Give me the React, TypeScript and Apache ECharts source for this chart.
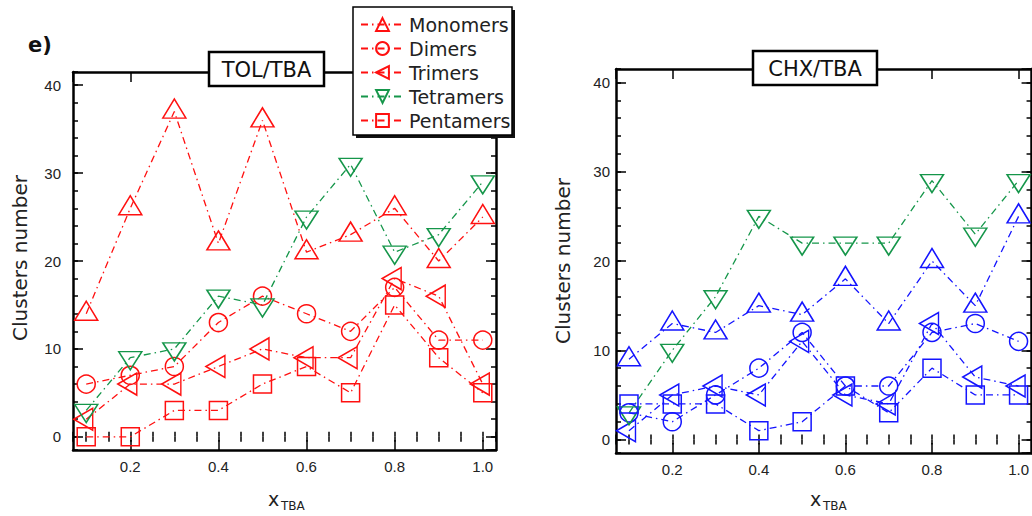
import React, { useEffect, useRef } from "react";
import * as echarts from "echarts";

// Mole fractions of TBA sampled in both mixtures
const X_VALUES = [0.1, 0.2, 0.3, 0.4, 0.5, 0.6, 0.7, 0.8, 0.9, 1.0];
const SERIES_NAMES = ["Monomers", "Dimers", "Trimers", "Tetramers", "Pentamers"];

// TOL/TBA cluster counts
const tolMonomers = [14, 26, 37, 22, 36, 21, 23, 26, 20, 25];
const tolDimers = [6, 7, 8, 13, 16, 14, 12, 17, 11, 11];
const tolTrimers = [2, 6, 6, 8, 10, 9, 9, 18, 16, 6];
const tolTetramers = [3, 9, 10, 16, 15, 25, 31, 21, 23, 29];
const tolPentamers = [0, 0, 3, 3, 6, 8, 5, 15, 9, 5];

// CHX/TBA cluster counts
const chxMonomers = [9, 13, 12, 15, 14, 18, 13, 20, 15, 25];
const chxDimers = [3, 2, 5, 8, 12, 6, 6, 12, 13, 11];
const chxTrimers = [1, 5, 6, 5, 11, 5, 4, 13, 7, 6];
const chxTetramers = [3, 10, 16, 25, 22, 22, 22, 29, 23, 29];
const chxPentamers = [4, 4, 4, 1, 2, 6, 3, 8, 5, 5];

// Axis ranges and tick steps
const X_MIN = 0.07;
const X_MAX = 1.03;
const X_MAJOR = 0.2;
const X_MINOR = 0.05;
const Y_MIN = -1.5;
const Y_MAX = 41.5;
const Y_MAJOR = 10;
const Y_MINOR = 2;

const RED = "#ff1010";
const GREEN = "#15964a";
const BLUE = "#1414ff";
const TEXT_FONT = "DejaVu Sans";
const TICK_FONT = "Liberation Sans";

const DASH_DOT = [7, 4, 1.5, 4];

type Marker = {
  symbol: string;
  size: number | number[];
  rotate: number;
  offset: number[];
};

const MARKERS: Marker[] = [
  { symbol: "triangle", size: [23, 19], rotate: 0, offset: [0, -3] },
  { symbol: "circle", size: 18, rotate: 0, offset: [0, 0] },
  { symbol: "triangle", size: [22, 19], rotate: 90, offset: [-3, 0] },
  { symbol: "triangle", size: [23, 18], rotate: 180, offset: [0, 3] },
  { symbol: "rect", size: 18, rotate: 0, offset: [0, 0] },
];

function buildAxes(gridIndex: number, yLabelMargin: number) {
  const frame = { show: true, onZero: false, lineStyle: { color: "#000", width: 2.5 } };
  const noLine = { show: false };
  const tickStyle = { color: "#000", width: 1.5 };
  const xBase = { type: "value", gridIndex, min: X_MIN, max: X_MAX, splitLine: { show: false } };
  const yBase = { type: "value", gridIndex, min: Y_MIN, max: Y_MAX, splitLine: { show: false } };
  const xLabel = {
    show: true,
    margin: 9,
    fontSize: 15,
    fontFamily: TICK_FONT,
    color: "#222",
    showMinLabel: false,
    showMaxLabel: false,
    formatter: (v: number) => v.toFixed(1),
  };
  const yLabel = {
    show: true,
    margin: yLabelMargin,
    fontSize: 15,
    fontFamily: TICK_FONT,
    color: "#222",
    showMinLabel: false,
    showMaxLabel: false,
    formatter: (v: number) => String(Math.round(v)),
  };
  const xAxes = [
    { ...xBase, position: "bottom", minInterval: X_MAJOR, maxInterval: X_MAJOR, axisLine: frame,
      axisTick: { inside: true, length: 10, lineStyle: tickStyle }, axisLabel: xLabel },
    { ...xBase, position: "bottom", minInterval: X_MINOR, maxInterval: X_MINOR, axisLine: noLine,
      axisTick: { inside: true, length: 5, lineStyle: tickStyle }, axisLabel: { show: false } },
    { ...xBase, position: "top", minInterval: X_MAJOR, maxInterval: X_MAJOR, axisLine: frame,
      axisTick: { inside: true, length: 10, lineStyle: tickStyle }, axisLabel: { show: false } },
    { ...xBase, position: "top", minInterval: X_MINOR, maxInterval: X_MINOR, axisLine: noLine,
      axisTick: { inside: true, length: 5, lineStyle: tickStyle }, axisLabel: { show: false } },
  ];
  const yAxes = [
    { ...yBase, position: "left", minInterval: Y_MAJOR, maxInterval: Y_MAJOR, axisLine: frame,
      axisTick: { inside: true, length: 10, lineStyle: tickStyle }, axisLabel: yLabel },
    { ...yBase, position: "left", minInterval: Y_MINOR, maxInterval: Y_MINOR, axisLine: noLine,
      axisTick: { inside: true, length: 5, lineStyle: tickStyle }, axisLabel: { show: false } },
    { ...yBase, position: "right", minInterval: Y_MAJOR, maxInterval: Y_MAJOR, axisLine: frame,
      axisTick: { inside: true, length: 10, lineStyle: tickStyle }, axisLabel: { show: false } },
    { ...yBase, position: "right", minInterval: Y_MINOR, maxInterval: Y_MINOR, axisLine: noLine,
      axisTick: { inside: true, length: 5, lineStyle: tickStyle }, axisLabel: { show: false } },
  ];
  return { xAxes, yAxes };
}

function buildSeries(
  values: number[][],
  colors: string[],
  xAxisIndex: number,
  yAxisIndex: number
) {
  return values.map((vals, k) => {
    const m = MARKERS[k];
    const c = colors[k];
    return {
      type: "line",
      name: SERIES_NAMES[k],
      xAxisIndex,
      yAxisIndex,
      data: X_VALUES.map((x, i) => [x, vals[i]]),
      color: c,
      symbol: m.symbol,
      symbolSize: m.size,
      symbolRotate: m.rotate,
      symbolOffset: m.offset,
      showAllSymbol: true,
      lineStyle: { color: c, width: 1.3, type: DASH_DOT },
      itemStyle: { color: "rgba(0,0,0,0)", borderColor: c, borderWidth: 1.5 },
      emphasis: { disabled: true },
      z: 3,
    };
  });
}

function titleBox(x: number, y: number, w: number, h: number, label: string) {
  return [
    {
      type: "rect",
      z: 20,
      shape: { x, y, width: w, height: h },
      style: { fill: "#fff", stroke: "#000", lineWidth: 2.5 },
    },
    {
      type: "text",
      z: 21,
      x: x + w / 2,
      y: y + h / 2 + 1,
      style: {
        text: label,
        font: `21px "${TEXT_FONT}"`,
        fill: "#111",
        align: "center",
        verticalAlign: "middle",
      },
    },
  ];
}

function axisTitles(yx: number, yy: number, xx: number, xy: number) {
  return [
    {
      type: "text",
      z: 21,
      x: yx,
      y: yy,
      rotation: Math.PI / 2,
      style: {
        text: "Clusters number",
        font: `20px "${TEXT_FONT}"`,
        fill: "#222",
        align: "center",
        verticalAlign: "middle",
      },
    },
    {
      type: "text",
      z: 21,
      x: xx,
      y: xy,
      style: {
        text: "x",
        font: `19px "${TEXT_FONT}"`,
        fill: "#222",
        align: "left",
        verticalAlign: "middle",
      },
    },
    {
      type: "text",
      z: 21,
      x: xx + 13,
      y: xy + 6.5,
      style: {
        text: "TBA",
        font: `12px "${TEXT_FONT}"`,
        fill: "#222",
        align: "left",
        verticalAlign: "middle",
      },
    },
  ];
}

export default function App() {
  const ref = useRef<HTMLDivElement>(null);

  useEffect(() => {
    if (!ref.current) return;
    const chart = echarts.init(ref.current, undefined, { renderer: "svg" });

    const left = buildAxes(0, 12);
    const right = buildAxes(1, 6);

    const tolSeries = buildSeries(
      [tolMonomers, tolDimers, tolTrimers, tolTetramers, tolPentamers],
      [RED, RED, RED, GREEN, RED],
      0,
      0
    );
    const chxSeries = buildSeries(
      [chxMonomers, chxDimers, chxTrimers, chxTetramers, chxPentamers],
      [BLUE, BLUE, BLUE, GREEN, BLUE],
      4,
      4
    );

    chart.setOption({
      animation: false,
      backgroundColor: "#fff",
      grid: [
        { left: 73, top: 72, width: 423, height: 378, containLabel: false },
        { left: 616, top: 69, width: 423, height: 384, containLabel: false },
      ],
      xAxis: [...left.xAxes, ...right.xAxes],
      yAxis: [...left.yAxes, ...right.yAxes],
      legend: {
        show: true,
        orient: "vertical",
        left: 360,
        top: 15,
        padding: 0,
        z: 30,
        itemWidth: 43,
        itemHeight: 16,
        itemGap: 5,
        selectedMode: false,
        data: SERIES_NAMES,
        textStyle: { fontFamily: TEXT_FONT, fontSize: 19, color: "#222", padding: [0, 0, 0, 0] },
      },
      graphic: [
        {
          type: "rect",
          z: 25,
          shape: { x: 356, y: 10, width: 159, height: 128 },
          style: { fill: "#111" },
        },
        {
          type: "rect",
          z: 26,
          shape: { x: 353, y: 7, width: 159, height: 128 },
          style: { fill: "#fff", stroke: "#000", lineWidth: 1.5 },
        },
        {
          type: "text",
          z: 21,
          x: 28,
          y: 45,
          style: {
            text: "e)",
            font: `bold 21px "${TEXT_FONT}"`,
            fill: "#111",
            align: "left",
            verticalAlign: "middle",
          },
        },
        ...titleBox(209, 52, 115, 34, "TOL/TBA"),
        ...titleBox(753, 51, 124, 34, "CHX/TBA"),
        ...axisTitles(20, 258, 268, 499),
        ...axisTitles(563, 261, 810, 499),
      ],
      series: [...tolSeries, ...chxSeries],
    });

    return () => chart.dispose();
  }, []);

  return (
    <div
      ref={ref}
      style={{ position: "fixed", left: 0, top: 0, width: 1032, height: 516, background: "#fff" }}
    />
  );
}
